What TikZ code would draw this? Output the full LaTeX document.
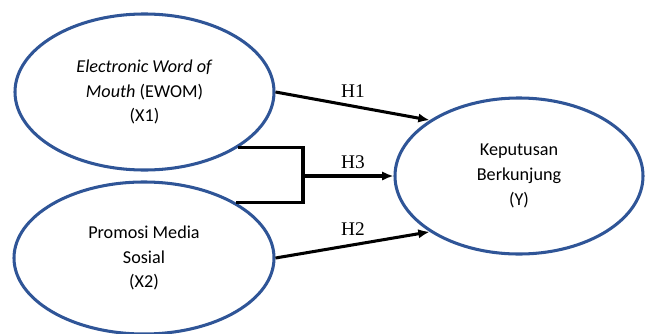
\documentclass[tikz,border=0pt]{standalone}
\usepackage{fontspec}
\setmainfont{Carlito}
\newfontfamily\timesfont{Liberation Serif}
\usetikzlibrary{arrows.meta, shapes.geometric}
\definecolor{ovalblue}{RGB}{47,85,151}
\begin{document}
\begin{tikzpicture}[x=0.03cm, y=-0.03cm,
  every node/.style={font=\fontsize{15.5}{21}\selectfont},
  var/.style={draw=ovalblue, line width=2.6pt, ellipse, align=center, inner sep=0pt},
  link/.style={line width=2.6pt, -{Latex[length=3.4mm,width=2.8mm]}},
  hyp/.style={font=\timesfont\fontsize{16.5}{18}\selectfont}]
  \useasboundingbox (0,0) rectangle (645,333);
  \node[var, minimum width=7.77cm, minimum height=4.68cm] (ewom) at (144.5,92) {\textit{Electronic Word of}\\\textit{Mouth} (EWOM)\\(X1)};
  \node[var, minimum width=7.8cm, minimum height=4.56cm] (promo) at (144,258) {Promosi Media\\Sosial\\(X2)};
  \node[var, minimum width=7.44cm, minimum height=4.68cm] (keputusan) at (519,176) {Keputusan\\Berkunjung\\(Y)};
  \coordinate (joint) at (303,176);
  \draw[link] (ewom.east) -- (keputusan.148);
  \draw[link] (promo.east) -- (keputusan.212);
  \draw[line width=2.6pt] (ewom.-31) -| (joint) |- (promo.31);
  \draw[link] (joint) -- (keputusan.west);
  \node[hyp] (h1) at (353,91) {H1};
  \node[hyp] (h3) at (353,162) {H3};
  \node[hyp] (h2) at (353,229) {H2};
\end{tikzpicture}
\end{document}
